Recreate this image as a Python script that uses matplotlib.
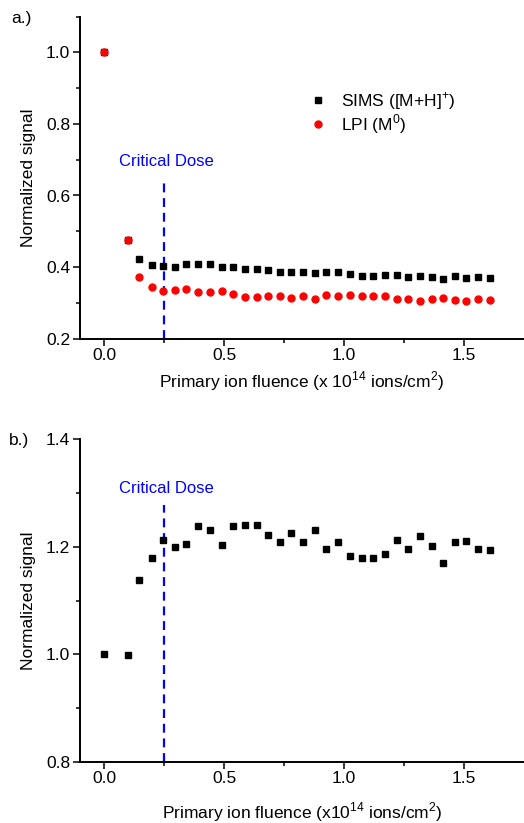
import matplotlib
matplotlib.use("Agg")
import matplotlib.pyplot as plt
from matplotlib.ticker import MultipleLocator

plt.rcParams['font.family'] = ['Liberation Sans', 'DejaVu Sans']
plt.rcParams['mathtext.fontset'] = 'custom'
plt.rcParams['mathtext.rm'] = 'Liberation Sans'

# ---- data (panel a) ----
x_a = [0.0, 0.097, 0.146, 0.197, 0.246, 0.294, 0.340, 0.392, 0.439, 0.489, 0.538,
       0.586, 0.635, 0.682, 0.731, 0.779, 0.829, 0.878, 0.925, 0.975, 1.022,
       1.072, 1.118, 1.168, 1.218, 1.267, 1.315, 1.364, 1.413, 1.461, 1.508,
       1.558, 1.607]
sims_a = [1.0, 0.475, 0.423, 0.406, 0.404, 0.401, 0.408, 0.410, 0.409, 0.401, 0.401,
          0.395, 0.395, 0.392, 0.385, 0.385, 0.385, 0.383, 0.385, 0.385, 0.382,
          0.376, 0.375, 0.379, 0.379, 0.371, 0.375, 0.371, 0.366, 0.374, 0.369,
          0.371, 0.369]
lpi_a = [1.0, 0.475, 0.372, 0.345, 0.333, 0.335, 0.338, 0.331, 0.330, 0.333, 0.324,
         0.317, 0.317, 0.320, 0.319, 0.315, 0.319, 0.311, 0.322, 0.318, 0.323,
         0.319, 0.318, 0.319, 0.311, 0.312, 0.306, 0.311, 0.314, 0.309, 0.305,
         0.311, 0.309]

# ---- data (panel b) ----
x_b = x_a
sims_b = [1.0, 0.998, 1.138, 1.180, 1.213, 1.199, 1.206, 1.238, 1.232, 1.203, 1.238,
          1.241, 1.241, 1.221, 1.209, 1.225, 1.209, 1.232, 1.196, 1.209, 1.183,
          1.180, 1.180, 1.187, 1.213, 1.196, 1.220, 1.201, 1.170, 1.209, 1.210,
          1.196, 1.194]

critical_dose = 0.25
xticks = [0.0, 0.5, 1.0, 1.5]

FS = 12.5
W, H = 524, 823
fig = plt.figure(figsize=(W / 100, H / 100), dpi=100)

def axes_px(left, top, right, bottom):
    return fig.add_axes([left / W, 1 - bottom / H, (right - left) / W, (bottom - top) / H])

def style(ax):
    for s in ('top', 'right'):
        ax.spines[s].set_visible(False)
    for s in ('left', 'bottom'):
        ax.spines[s].set_linewidth(1.4)
    ax.tick_params(which='major', direction='out', length=5, width=1.1, labelsize=FS, pad=2)
    ax.tick_params(which='minor', direction='out', length=3, width=1.1)
    ax.set_xlim(-0.101, 1.749)
    ax.set_xticks(xticks)
    ax.xaxis.set_minor_locator(MultipleLocator(0.25))

# Panel a
ax1 = axes_px(80, 16.5, 524, 338.7)
style(ax1)
ax1.set_ylim(0.2, 1.1)
ax1.set_yticks([0.2, 0.4, 0.6, 0.8, 1.0])
ax1.yaxis.set_minor_locator(MultipleLocator(0.1))
ax1.plot(x_a, sims_a, 's', color='black', ms=4.5, ls='none', label='SIMS ([M+H]$^{+}$)', zorder=3)
ax1.plot(x_a, lpi_a, 'o', color='#ff0000', ms=5.0, ls='none', label='LPI (M$^{0}$)', zorder=4)
ax1.axvline(critical_dose, ymin=0.0, ymax=(0.648 - 0.2) / 0.9,
            color='#0000ff', lw=1.6, ls=(0, (4, 2.6)))
ax1.text(critical_dose + 0.008, 0.695, 'Critical Dose', color='#0000ff', fontsize=12,
         ha='center', va='center')
ax1.set_ylabel('Normalized signal', fontsize=FS, labelpad=7)
ax1.set_xlabel('Primary ion fluence (x 10$^{14}$ ions/cm$^{2}$)', fontsize=FS, labelpad=4)
ax1.legend(loc='upper left', bbox_to_anchor=(0.517, 0.772), frameon=False, fontsize=FS,
           handletextpad=0.8, labelspacing=0.05, handlelength=1.0, borderpad=0,
           borderaxespad=0)
fig.text(11 / W, 1 - 19 / H, 'a.)', fontsize=FS, va='center', ha='left')

# Panel b
ax2 = axes_px(80, 439.3, 524, 761.7)
style(ax2)
ax2.set_ylim(0.8, 1.4)
ax2.set_yticks([0.8, 1.0, 1.2, 1.4])
ax2.yaxis.set_minor_locator(MultipleLocator(0.1))
ax2.plot(x_b, sims_b, 's', color='black', ms=4.5, ls='none', zorder=3)
ax2.axvline(critical_dose, ymin=0.0, ymax=(1.277 - 0.8) / 0.6,
            color='#0000ff', lw=1.6, ls=(0, (4, 2.6)))
ax2.text(critical_dose + 0.008, 1.309, 'Critical Dose', color='#0000ff', fontsize=12,
         ha='center', va='center')
ax2.set_ylabel('Normalized signal', fontsize=FS, labelpad=7)
ax2.set_xlabel('Primary ion fluence (x10$^{14}$ ions/cm$^{2}$)', fontsize=FS, labelpad=10)
fig.text(9 / W, 1 - 440 / H, 'b.)', fontsize=FS, va='center', ha='left')

fig.savefig('out.png', dpi=100)
